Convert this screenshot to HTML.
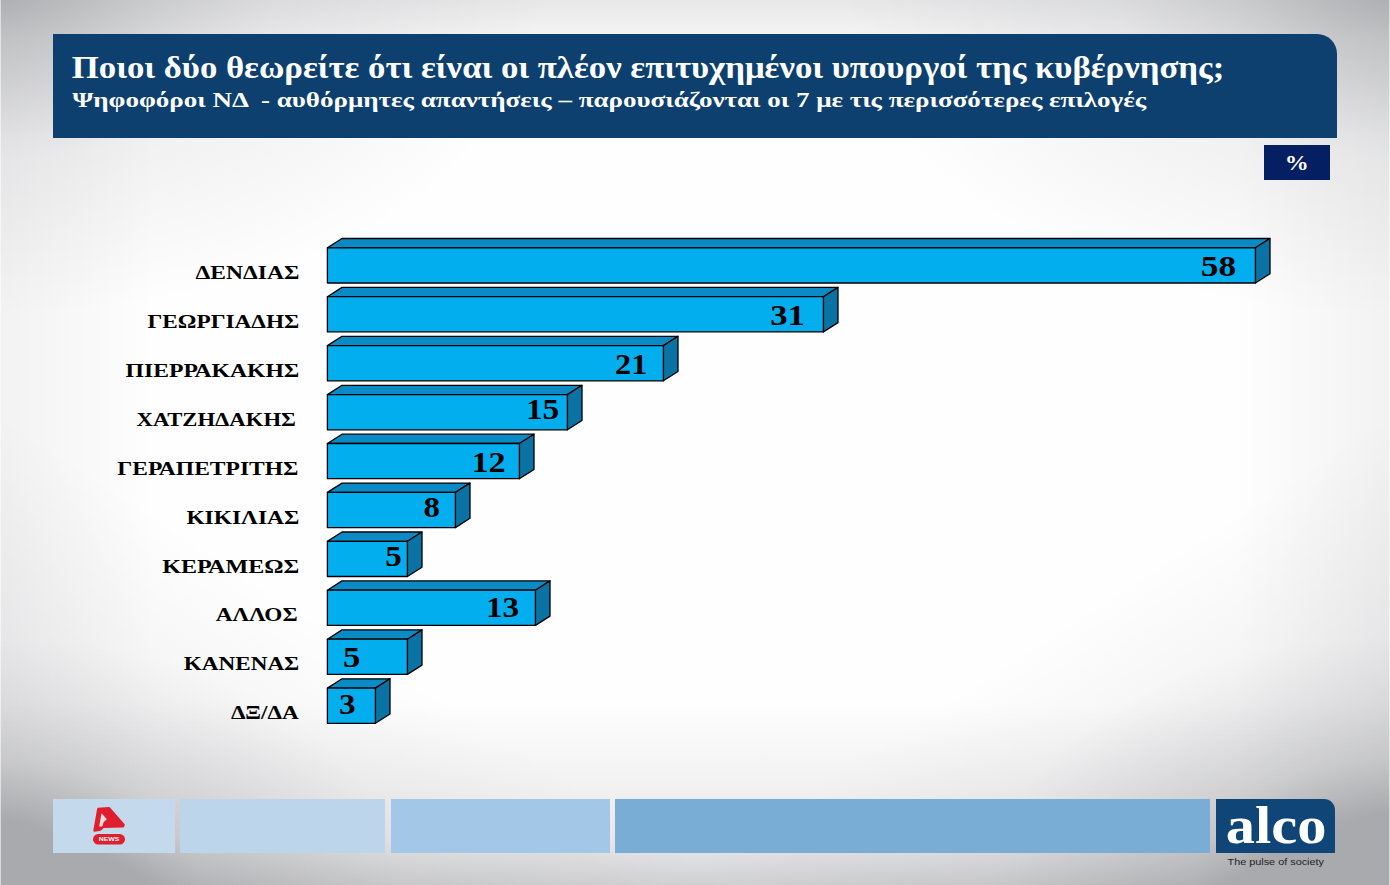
<!DOCTYPE html>
<html lang="el"><head><meta charset="utf-8"><title>Οι πλέον επιτυχημένοι υπουργοί</title>
<style>
html,body{margin:0;padding:0}
body{width:1390px;height:885px;overflow:hidden;position:relative;font-family:"Liberation Serif",serif;
 background:
  linear-gradient(#a9aaae,#a9aaae),
  linear-gradient(to right, rgba(0,3,15,0.046) 0px, rgba(0,3,15,0.000) 157px),
  linear-gradient(to left, rgba(0,3,15,0.046) 0px, rgba(0,3,15,0.000) 157px),
  linear-gradient(to bottom, rgba(0,3,15,0.092) 0px, rgba(0,3,15,0.038) 37.6px, rgba(0,3,15,0.000) 139px),
  linear-gradient(to top, rgba(0,3,15,0.175) 0px, rgba(0,3,15,0.082) 46.3px, rgba(0,3,15,0.000) 184px),
  linear-gradient(32.8deg, rgba(0,3,15,0.101) 0px, rgba(0,3,15,0.000) 399px),
  linear-gradient(-32.8deg, rgba(0,3,15,0.108) 0px, rgba(0,3,15,0.000) 399px),
  radial-gradient(ellipse 397px 249px at 0% 100%, rgba(0,3,15,0.291) 0%, rgba(0,3,15,0.076) 50%, rgba(0,3,15,0.000) 100%),
  radial-gradient(ellipse 397px 249px at 100% 100%, rgba(0,3,15,0.311) 0%, rgba(0,3,15,0.081) 50%, rgba(0,3,15,0.000) 100%),
  radial-gradient(ellipse 547px 317px at 0% 0%, rgba(0,3,15,0.209) 0%, rgba(0,3,15,0.055) 50%, rgba(0,3,15,0.000) 100%),
  radial-gradient(ellipse 547px 317px at 100% 0%, rgba(0,3,15,0.209) 0%, rgba(0,3,15,0.055) 50%, rgba(0,3,15,0.000) 100%),
  #fefefe;
 background-blend-mode:lighten,normal,normal,normal,normal,normal,normal,normal,normal,normal,normal;
}
.edge{position:absolute;top:0;width:1px;height:885px;background:rgba(255,255,255,0.55)}
#banner{position:absolute;left:53px;top:34px;width:1284px;height:104px;background:#0d3f6f;border-top-right-radius:20px}
#pct{position:absolute;left:1264px;top:145px;width:66px;height:34.5px;background:#041f62}
.blk{position:absolute;top:799px;height:54px}
#alco{position:absolute;left:1216px;top:799px;width:119px;height:54px;background:#0f4577;border-top-right-radius:11px}
svg{position:absolute;left:0;top:0}
svg text{font-family:"Liberation Serif",serif;font-weight:bold}
.lab{font-size:19px;fill:#000}
.num{font-size:29.5px;fill:#000}
.bars polygon,.bars rect{stroke:#000;stroke-width:1.3;stroke-linejoin:round}
</style></head><body>
<div class="edge" style="left:0"></div><div class="edge" style="left:1389px"></div>
<div id="banner"></div>
<div id="pct"></div>
<div class="blk" style="left:53px;width:121.5px;background:#c4d9eb"></div>
<div class="blk" style="left:180.3px;width:204.4px;background:#bdd5eb"></div>
<div class="blk" style="left:390.7px;width:219.3px;background:#a3c7e6"></div>
<div class="blk" style="left:615.3px;width:594.7px;background:#7aadd6"></div>
<div id="alco"></div>
<svg width="1390" height="885" viewBox="0 0 1390 885">
<text x="71.8" y="77.8" font-size="32.2" fill="#fff" textLength="1152.5" lengthAdjust="spacingAndGlyphs">Ποιοι δύο θεωρείτε ότι είναι οι πλέον επιτυχημένοι υπουργοί της κυβέρνησης;</text>
<text x="72.2" y="107.2" font-size="21.2" fill="#fff" textLength="1074" lengthAdjust="spacingAndGlyphs" style="white-space:pre">Ψηφοφόροι ΝΔ  - αυθόρμητες απαντήσεις – παρουσιάζονται οι 7 με τις περισσότερες επιλογές</text>
<text x="1284.8" y="170" font-size="21.5" fill="#fff" textLength="24" lengthAdjust="spacingAndGlyphs">%</text>
<g class="bars">
<polygon points="327.4,247.8 342.0,238.5 1270.0,238.5 1255.4,247.8" fill="#0a8bc6"/>
<polygon points="1255.4,247.8 1270.0,238.5 1270.0,273.7 1255.4,283.0" fill="#0b73a3"/>
<rect x="327.4" y="247.8" width="928.0" height="35.2" fill="#03aeee"/>
<text class="lab" x="195.5" y="278.8" textLength="103.8" lengthAdjust="spacingAndGlyphs">ΔΕΝΔΙΑΣ</text>
<text class="num" x="1200.8" y="276.1" textLength="35.3" lengthAdjust="spacingAndGlyphs">58</text>
<polygon points="327.4,296.7 342.0,287.4 838.0,287.4 823.4,296.7" fill="#0a8bc6"/>
<polygon points="823.4,296.7 838.0,287.4 838.0,322.6 823.4,331.9" fill="#0b73a3"/>
<rect x="327.4" y="296.7" width="496.0" height="35.2" fill="#03aeee"/>
<text class="lab" x="147.5" y="328.0" textLength="151.8" lengthAdjust="spacingAndGlyphs">ΓΕΩΡΓΙΑΔΗΣ</text>
<text class="num" x="770.2" y="324.7" textLength="34.6" lengthAdjust="spacingAndGlyphs">31</text>
<polygon points="327.4,345.6 342.0,336.3 678.0,336.3 663.4,345.6" fill="#0a8bc6"/>
<polygon points="663.4,345.6 678.0,336.3 678.0,371.5 663.4,380.8" fill="#0b73a3"/>
<rect x="327.4" y="345.6" width="336.0" height="35.2" fill="#03aeee"/>
<text class="lab" x="125.6" y="377.4" textLength="173.7" lengthAdjust="spacingAndGlyphs">ΠΙΕΡΡΑΚΑΚΗΣ</text>
<text class="num" x="615.1" y="373.7" textLength="32.2" lengthAdjust="spacingAndGlyphs">21</text>
<polygon points="327.4,394.6 342.0,385.3 582.0,385.3 567.4,394.6" fill="#0a8bc6"/>
<polygon points="567.4,394.6 582.0,385.3 582.0,420.5 567.4,429.8" fill="#0b73a3"/>
<rect x="327.4" y="394.6" width="240.0" height="35.2" fill="#03aeee"/>
<text class="lab" x="136.6" y="426.4" textLength="159.3" lengthAdjust="spacingAndGlyphs">ΧΑΤΖΗΔΑΚΗΣ</text>
<text class="num" x="526.0" y="419.3" textLength="33.2" lengthAdjust="spacingAndGlyphs">15</text>
<polygon points="327.4,443.5 342.0,434.2 534.0,434.2 519.4,443.5" fill="#0a8bc6"/>
<polygon points="519.4,443.5 534.0,434.2 534.0,469.4 519.4,478.7" fill="#0b73a3"/>
<rect x="327.4" y="443.5" width="192.0" height="35.2" fill="#03aeee"/>
<text class="lab" x="117.3" y="475.0" textLength="181.1" lengthAdjust="spacingAndGlyphs">ΓΕΡΑΠΕΤΡΙΤΗΣ</text>
<text class="num" x="471.4" y="471.7" textLength="34.2" lengthAdjust="spacingAndGlyphs">12</text>
<polygon points="327.4,492.4 342.0,483.1 470.0,483.1 455.4,492.4" fill="#0a8bc6"/>
<polygon points="455.4,492.4 470.0,483.1 470.0,518.3 455.4,527.6" fill="#0b73a3"/>
<rect x="327.4" y="492.4" width="128.0" height="35.2" fill="#03aeee"/>
<text class="lab" x="186.4" y="523.6" textLength="112.9" lengthAdjust="spacingAndGlyphs">ΚΙΚΙΛΙΑΣ</text>
<text class="num" x="423.6" y="517.3" textLength="16.5" lengthAdjust="spacingAndGlyphs">8</text>
<polygon points="327.4,541.3 342.0,532.0 422.0,532.0 407.4,541.3" fill="#0a8bc6"/>
<polygon points="407.4,541.3 422.0,532.0 422.0,567.2 407.4,576.5" fill="#0b73a3"/>
<rect x="327.4" y="541.3" width="80.0" height="35.2" fill="#03aeee"/>
<text class="lab" x="162.2" y="572.5" textLength="137.1" lengthAdjust="spacingAndGlyphs">ΚΕΡΑΜΕΩΣ</text>
<text class="num" x="385.3" y="566.1" textLength="16.5" lengthAdjust="spacingAndGlyphs">5</text>
<polygon points="327.4,590.2 342.0,580.9 550.0,580.9 535.4,590.2" fill="#0a8bc6"/>
<polygon points="535.4,590.2 550.0,580.9 550.0,616.1 535.4,625.4" fill="#0b73a3"/>
<rect x="327.4" y="590.2" width="208.0" height="35.2" fill="#03aeee"/>
<text class="lab" x="215.7" y="621.3" textLength="81.9" lengthAdjust="spacingAndGlyphs">ΑΛΛΟΣ</text>
<text class="num" x="486.0" y="617.0" textLength="33.2" lengthAdjust="spacingAndGlyphs">13</text>
<polygon points="327.4,639.2 342.0,629.9 422.0,629.9 407.4,639.2" fill="#0a8bc6"/>
<polygon points="407.4,639.2 422.0,629.9 422.0,665.1 407.4,674.4" fill="#0b73a3"/>
<rect x="327.4" y="639.2" width="80.0" height="35.2" fill="#03aeee"/>
<text class="lab" x="183.7" y="670.2" textLength="115.6" lengthAdjust="spacingAndGlyphs">ΚΑΝΕΝΑΣ</text>
<text class="num" x="342.9" y="666.8" textLength="17.3" lengthAdjust="spacingAndGlyphs">5</text>
<polygon points="327.4,688.1 342.0,678.8 390.0,678.8 375.4,688.1" fill="#0a8bc6"/>
<polygon points="375.4,688.1 390.0,678.8 390.0,714.0 375.4,723.3" fill="#0b73a3"/>
<rect x="327.4" y="688.1" width="48.0" height="35.2" fill="#03aeee"/>
<text class="lab" x="230.9" y="718.8" textLength="67.7" lengthAdjust="spacingAndGlyphs">ΔΞ/ΔΑ</text>
<text class="num" x="339.1" y="713.9" textLength="16.6" lengthAdjust="spacingAndGlyphs">3</text>
</g>
<!-- A NEWS logo -->
<g id="anews">
<path d="M98.3,809.0 L108.9,808.1 L123.6,824.9 L123.0,826.4 L103.2,826.8 L100.4,829.5 L94.5,830.6 Z" fill="#df1f2d" stroke="#df1f2d" stroke-width="2.4" stroke-linejoin="round"/>
<path d="M101.5,813.3 L106.9,819.2 L103.7,821.9 L102.2,826.6 L99.2,826.5 Z" fill="#f7dfe4"/>
<rect x="93" y="833.9" width="32" height="10.6" rx="5.3" fill="#df1f2d"/>
<text x="98.7" y="841.1" font-size="5.7" fill="#fff" textLength="20.7" lengthAdjust="spacingAndGlyphs" style="font-family:'Liberation Sans',sans-serif">NEWS</text>
</g>
<text x="1225.8" y="843.3" font-size="52" fill="#fff" textLength="100.6" lengthAdjust="spacingAndGlyphs">alco</text>
<text x="1227.5" y="865.3" font-size="8.7" fill="#222" textLength="96.5" lengthAdjust="spacingAndGlyphs" style="font-family:'Liberation Sans',sans-serif;font-weight:normal">The pulse of society</text>
</svg>
</body></html>
